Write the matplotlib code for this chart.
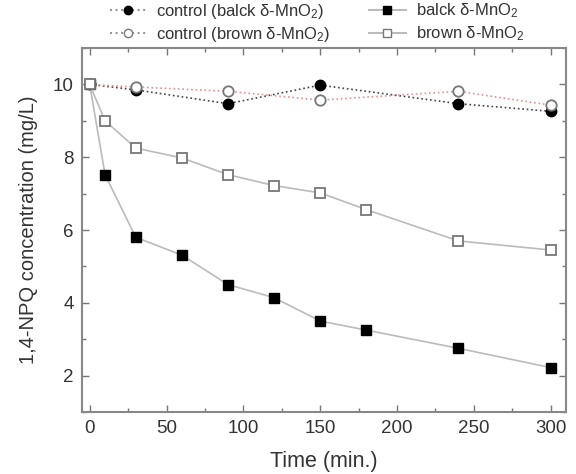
import matplotlib
matplotlib.use("Agg")
import matplotlib.pyplot as plt
from matplotlib.ticker import MultipleLocator
from matplotlib.lines import Line2D

plt.rcParams['font.family'] = ['Liberation Sans', 'DejaVu Sans']
plt.rcParams['mathtext.fontset'] = 'custom'
plt.rcParams['mathtext.rm'] = 'Liberation Sans'
plt.rcParams['mathtext.it'] = 'Liberation Sans:italic'
plt.rcParams['mathtext.default'] = 'regular'

# data
t_control = [0, 30, 90, 150, 240, 300]
control_black = [10.0, 9.85, 9.47, 9.98, 9.47, 9.26]
control_brown = [10.0, 9.93, 9.81, 9.57, 9.81, 9.43]
t_treat = [0, 10, 30, 60, 90, 120, 150, 180, 240, 300]
black_mno2 = [10.0, 7.52, 5.8, 5.31, 4.5, 4.14, 3.5, 3.25, 2.75, 2.22]
brown_mno2 = [10.0, 9.0, 8.25, 7.98, 7.52, 7.22, 7.02, 6.56, 5.70, 5.45]

labels = ["control (balck $\\delta$-MnO$_2$)", "control (brown $\\delta$-MnO$_2$)",
          "balck $\\delta$-MnO$_2$", "brown $\\delta$-MnO$_2$"]

fig = plt.figure(figsize=(5.76, 4.74), dpi=100)
ax = fig.add_axes([82/576, 1-412/474, (566-82)/576, (412-48)/474])

gray = '#bbbbbb'
ax.plot(t_control, control_black, linestyle=':', color='#444444', lw=1.2,
        marker='o', ms=7.5, mfc='black', mec='black', zorder=3)
ax.plot(t_control, control_brown, linestyle=':', color='#e89090', lw=1.2,
        marker='o', ms=7.5, mfc='white', mec='#777777', mew=1.3, zorder=3)
ax.plot(t_treat, black_mno2, linestyle='-', color=gray, lw=1.2,
        marker='s', ms=7, mfc='black', mec='black', zorder=3)
ax.plot(t_treat, brown_mno2, linestyle='-', color=gray, lw=1.2,
        marker='s', ms=7, mfc='white', mec='#777777', mew=1.3, zorder=3)

ax.set_xlim(-5, 310)
ax.set_ylim(1, 11)
ax.set_xticks([0, 50, 100, 150, 200, 250, 300])
ax.set_yticks([2, 4, 6, 8, 10])
ax.xaxis.set_minor_locator(MultipleLocator(25))
ax.yaxis.set_minor_locator(MultipleLocator(1))
ax.tick_params(which='both', direction='in', top=True, right=True, colors='#777777',
               labelcolor='#333333', labelsize=13.5)
ax.tick_params(which='major', length=5, width=1, pad=6)
ax.tick_params(which='minor', length=3, width=1)
for s in ax.spines.values():
    s.set_color('#888888')
    s.set_linewidth(1.5)

ax.set_xlabel('Time (min.)', fontsize=15.5, color='#333333', labelpad=10)
ax.set_ylabel('1,4-NPQ concentration (mg/L)', fontsize=14.5, color='#333333', labelpad=11)

h1 = Line2D([], [], linestyle=':', color='#999999', marker='o', ms=6, mfc='black', mec='black')
h2 = Line2D([], [], linestyle=':', color='#999999', marker='o', ms=6, mfc='white', mec='#777777')
h3 = Line2D([], [], linestyle='-', color=gray, marker='s', ms=6, mfc='black', mec='black')
h4 = Line2D([], [], linestyle='-', color=gray, marker='s', ms=6, mfc='white', mec='#777777')
fig.legend([h1, h2, h3, h4], labels, ncol=2, loc='upper left',
           bbox_to_anchor=(108/576, 1.0), frameon=False, fontsize=12,
           handlelength=2.2, handletextpad=0.6, columnspacing=2.3,
           labelspacing=0.25, labelcolor='#333333', borderaxespad=0.0,
           borderpad=0.1)

fig.savefig('out.png', dpi=100)
